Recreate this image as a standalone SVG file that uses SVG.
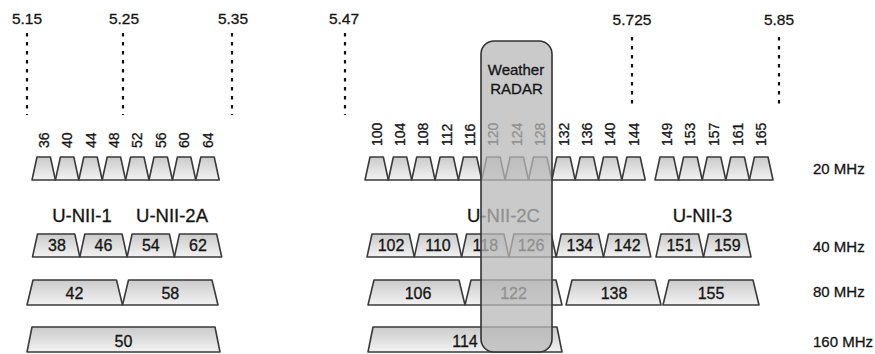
<svg xmlns="http://www.w3.org/2000/svg" width="875" height="354" viewBox="0 0 875 354">
<defs>
<linearGradient id="g" x1="0" y1="0" x2="0" y2="1">
<stop offset="0" stop-color="#cbcbcb"/>
<stop offset="1" stop-color="#f2f2f2"/>
</linearGradient>
<style>
text{font-family:"Liberation Sans",Arial,sans-serif;fill:#141414;stroke:#141414;stroke-width:0.3}
.ch{fill:url(#g);stroke:#3a3a3a;stroke-width:1.6;stroke-linejoin:round}
.num{font-size:14px}
.lbl{font-size:16px;text-anchor:middle}
.freq{font-size:15.5px;text-anchor:middle}
.band{font-size:18.5px;text-anchor:middle}
.mhz{font-size:15px}
.dot{stroke:#111;stroke-width:2.2;stroke-dasharray:3.5 5.5;fill:none}
</style>
</defs>
<rect width="875" height="354" fill="#fff"/>

<g id="connectors">
<line class="dot" x1="27" y1="33" x2="27" y2="115"/>
<line class="dot" x1="123" y1="33" x2="123" y2="115"/>
<line class="dot" x1="232" y1="33" x2="232" y2="115"/>
<line class="dot" x1="345" y1="33" x2="345" y2="115"/>
<line class="dot" x1="632" y1="37" x2="632" y2="108"/>
<line class="dot" x1="779" y1="37" x2="779" y2="108"/>
</g>

<g id="freq-labels">
<text class="freq" x="27" y="24">5.15</text>
<text class="freq" x="124" y="24">5.25</text>
<text class="freq" x="233" y="24">5.35</text>
<text class="freq" x="344" y="24">5.47</text>
<text class="freq" x="632" y="25">5.725</text>
<text class="freq" x="779" y="25">5.85</text>
</g>

<g id="row-20mhz">
<polygon class="ch" points="32,180 37,157 50.4,157 55.4,180"/>
<polygon class="ch" points="55.4,180 60.4,157 73.8,157 78.8,180"/>
<polygon class="ch" points="78.8,180 83.8,157 97.2,157 102.2,180"/>
<polygon class="ch" points="102.2,180 107.2,157 120.6,157 125.6,180"/>
<polygon class="ch" points="125.6,180 130.6,157 144,157 149,180"/>
<polygon class="ch" points="149,180 154,157 167.4,157 172.4,180"/>
<polygon class="ch" points="172.4,180 177.4,157 190.8,157 195.8,180"/>
<polygon class="ch" points="195.8,180 200.8,157 214.2,157 219.2,180"/>
<polygon class="ch" points="365,180 370,157 383.35,157 388.35,180"/>
<polygon class="ch" points="388.35,180 393.35,157 406.7,157 411.7,180"/>
<polygon class="ch" points="411.7,180 416.7,157 430.05,157 435.05,180"/>
<polygon class="ch" points="435.05,180 440.05,157 453.4,157 458.4,180"/>
<polygon class="ch" points="458.4,180 463.4,157 476.75,157 481.75,180"/>
<polygon class="ch" points="481.75,180 486.75,157 500.1,157 505.1,180"/>
<polygon class="ch" points="505.1,180 510.1,157 523.45,157 528.45,180"/>
<polygon class="ch" points="528.45,180 533.45,157 546.8,157 551.8,180"/>
<polygon class="ch" points="551.8,180 556.8,157 570.15,157 575.15,180"/>
<polygon class="ch" points="575.15,180 580.15,157 593.5,157 598.5,180"/>
<polygon class="ch" points="598.5,180 603.5,157 616.85,157 621.85,180"/>
<polygon class="ch" points="621.85,180 626.85,157 640.2,157 645.2,180"/>
<polygon class="ch" points="655,180 660,157 673.6,157 678.6,180"/>
<polygon class="ch" points="678.6,180 683.6,157 697.2,157 702.2,180"/>
<polygon class="ch" points="702.2,180 707.2,157 720.8,157 725.8,180"/>
<polygon class="ch" points="725.8,180 730.8,157 744.4,157 749.4,180"/>
<polygon class="ch" points="749.4,180 754.4,157 768,157 773,180"/>
<g class="num">
<text transform="translate(48.7 148) rotate(-90)">36</text>
<text transform="translate(72.1 148) rotate(-90)">40</text>
<text transform="translate(95.5 148) rotate(-90)">44</text>
<text transform="translate(118.9 148) rotate(-90)">48</text>
<text transform="translate(142.3 148) rotate(-90)">52</text>
<text transform="translate(165.7 148) rotate(-90)">56</text>
<text transform="translate(189.1 148) rotate(-90)">60</text>
<text transform="translate(212.5 148) rotate(-90)">64</text>
<text transform="translate(381.7 146) rotate(-90)">100</text>
<text transform="translate(405 146) rotate(-90)">104</text>
<text transform="translate(428.4 146) rotate(-90)">108</text>
<text transform="translate(451.7 146) rotate(-90)">112</text>
<text transform="translate(475.1 146) rotate(-90)">116</text>
<text transform="translate(498.4 146) rotate(-90)">120</text>
<text transform="translate(521.8 146) rotate(-90)">124</text>
<text transform="translate(545.1 146) rotate(-90)">128</text>
<text transform="translate(568.5 146) rotate(-90)">132</text>
<text transform="translate(591.8 146) rotate(-90)">136</text>
<text transform="translate(615.2 146) rotate(-90)">140</text>
<text transform="translate(638.5 146) rotate(-90)">144</text>
<text transform="translate(671.8 146) rotate(-90)">149</text>
<text transform="translate(695.4 146) rotate(-90)">153</text>
<text transform="translate(719 146) rotate(-90)">157</text>
<text transform="translate(742.6 146) rotate(-90)">161</text>
<text transform="translate(766.2 146) rotate(-90)">165</text>
</g>
</g>

<g id="bands">
<text class="band" x="82" y="222">U-NII-1</text>
<text class="band" x="172" y="222">U-NII-2A</text>
<text class="band" x="503.5" y="222">U-NII-2C</text>
<text class="band" x="702.5" y="222">U-NII-3</text>
</g>

<g id="row-40mhz">
<polygon class="ch" points="32.5,257 37.5,234 74.8,234 79.8,257"/>
<polygon class="ch" points="79.8,257 84.8,234 122.1,234 127.1,257"/>
<polygon class="ch" points="127.1,257 132.1,234 169.4,234 174.4,257"/>
<polygon class="ch" points="174.4,257 179.4,234 216.7,234 221.7,257"/>
<polygon class="ch" points="367,257 372,234 409.3,234 414.3,257"/>
<polygon class="ch" points="414.3,257 419.3,234 456.6,234 461.6,257"/>
<polygon class="ch" points="461.6,257 466.6,234 503.9,234 508.9,257"/>
<polygon class="ch" points="508.9,257 513.9,234 551.2,234 556.2,257"/>
<polygon class="ch" points="556.2,257 561.2,234 598.5,234 603.5,257"/>
<polygon class="ch" points="603.5,257 608.5,234 645.8,234 650.8,257"/>
<polygon class="ch" points="656,257 661,234 698.5,234 703.5,257"/>
<polygon class="ch" points="703.5,257 708.5,234 746,234 751,257"/>
<text class="lbl" x="57" y="251">38</text>
<text class="lbl" x="103.5" y="251">46</text>
<text class="lbl" x="150.8" y="251">54</text>
<text class="lbl" x="198" y="251">62</text>
<text class="lbl" x="391" y="251">102</text>
<text class="lbl" x="438" y="251">110</text>
<text class="lbl" x="485.3" y="251">118</text>
<text class="lbl" x="531" y="251">126</text>
<text class="lbl" x="579.9" y="251">134</text>
<text class="lbl" x="627.2" y="251">142</text>
<text class="lbl" x="679.8" y="251">151</text>
<text class="lbl" x="727.3" y="251">159</text>
</g>

<g id="row-80mhz">
<polygon class="ch" points="27,305 33,280 116.5,280 122.5,305"/>
<polygon class="ch" points="122.5,305 128.5,280 212,280 218,305"/>
<polygon class="ch" points="368,305 374,280 459,280 465,305"/>
<polygon class="ch" points="465,305 471,280 556,280 562,305"/>
<polygon class="ch" points="566,305 572,280 655,280 661,305"/>
<polygon class="ch" points="663,305 669,280 753,280 759,305"/>
<text class="lbl" x="74.5" y="299">42</text>
<text class="lbl" x="170.3" y="299">58</text>
<text class="lbl" x="418" y="299">106</text>
<text class="lbl" x="513.5" y="299">122</text>
<text class="lbl" x="614" y="299">138</text>
<text class="lbl" x="711" y="299">155</text>
</g>

<g id="row-160mhz">
<polygon class="ch" points="27,352 32,327 215,327 220,352"/>
<polygon class="ch" points="368,352 373,327 557,327 562,352"/>
<text class="lbl" x="123.5" y="347">50</text>
<text class="lbl" x="465" y="347">114</text>
</g>

<g id="weather-radar">
<rect x="481" y="41" width="71" height="311" rx="13" fill="#b8b8b8" fill-opacity="0.75" stroke="#333" stroke-width="1.6"/>
<text class="mhz" x="516" y="75" text-anchor="middle">Weather</text>
<text class="mhz" x="516.5" y="94" text-anchor="middle">RADAR</text>
</g>

<g id="widths">
<text class="mhz" x="813" y="174">20 MHz</text>
<text class="mhz" x="813" y="252">40 MHz</text>
<text class="mhz" x="813" y="297">80 MHz</text>
<text class="mhz" x="813" y="347">160 MHz</text>
</g>
</svg>
